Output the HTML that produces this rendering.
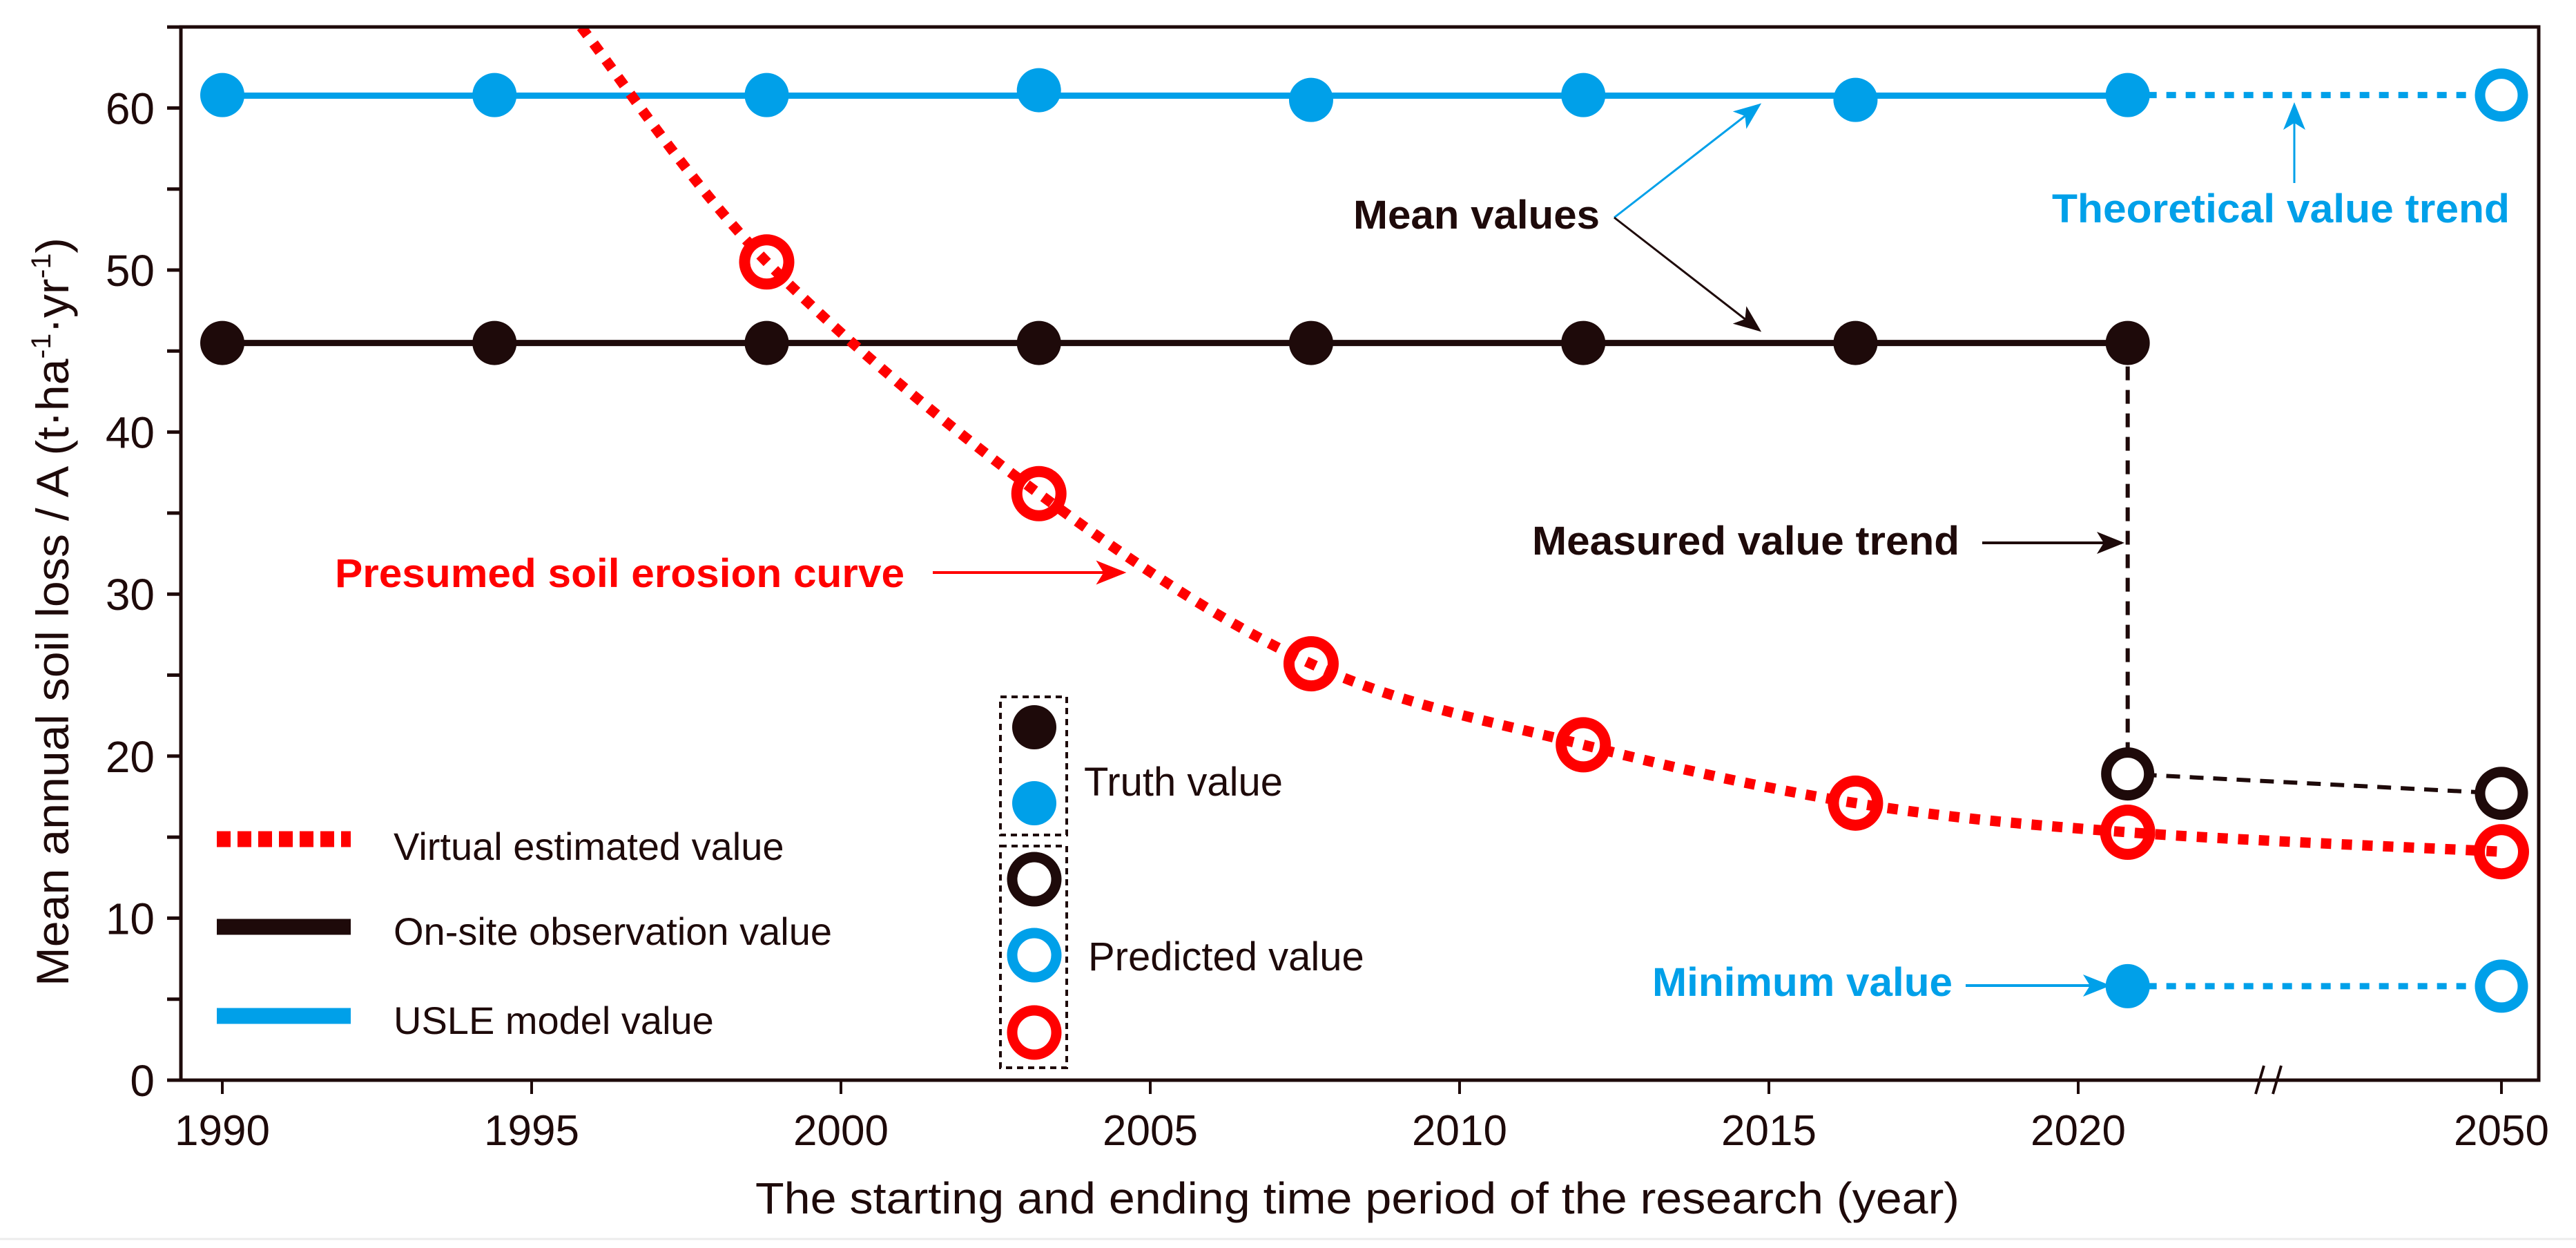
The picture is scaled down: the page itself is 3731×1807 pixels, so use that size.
<!DOCTYPE html>
<html><head><meta charset="utf-8"><style>
html,body{margin:0;padding:0;background:#fff;}
svg{display:block;}
text{font-family:"Liberation Sans",Arial,sans-serif;}
</style></head><body>
<svg id="chart" width="3731" height="1807" viewBox="0 0 3731 1807" xmlns="http://www.w3.org/2000/svg">
<defs>
<clipPath id="plotClip"><rect x="262" y="39" width="3415" height="1525"/></clipPath>
<marker id="arrBlue" viewBox="0 0 20 20" refX="18" refY="10" markerWidth="40" markerHeight="40" markerUnits="userSpaceOnUse" orient="auto"><path d="M0,2 L20,10 L0,18 L5,10 Z" fill="#00a0e9"/></marker>
<marker id="arrBlack" viewBox="0 0 20 20" refX="18" refY="10" markerWidth="40" markerHeight="40" markerUnits="userSpaceOnUse" orient="auto"><path d="M0,2 L20,10 L0,18 L5,10 Z" fill="#1e0a0a"/></marker>
<marker id="arrRed" viewBox="0 0 20 20" refX="18" refY="10" markerWidth="44" markerHeight="44" markerUnits="userSpaceOnUse" orient="auto"><path d="M0,2 L20,10 L0,18 L5,10 Z" fill="#ff0000"/></marker>
</defs>
<g id="series" clip-path="url(#plotClip)"></g>
<g id="axes"></g>
<g id="annotations">
  <text x="1960" y="331" font-size="58" font-weight="bold" fill="#1e0a0a" textLength="357" lengthAdjust="spacingAndGlyphs">Mean values</text>
  <line x1="2338" y1="315" x2="2548" y2="152" stroke="#00a0e9" stroke-width="3" marker-end="url(#arrBlue)"/>
  <line x1="2338" y1="315" x2="2548" y2="478" stroke="#1e0a0a" stroke-width="3" marker-end="url(#arrBlack)"/>
  <text x="2972" y="322" font-size="58" font-weight="bold" fill="#00a0e9" textLength="663" lengthAdjust="spacingAndGlyphs">Theoretical value trend</text>
  <line x1="3323" y1="265" x2="3323" y2="152" stroke="#00a0e9" stroke-width="3" marker-end="url(#arrBlue)"/>
  <text x="2219" y="803" font-size="58" font-weight="bold" fill="#1e0a0a" textLength="619" lengthAdjust="spacingAndGlyphs">Measured value trend</text>
  <line x1="2871" y1="786" x2="3073" y2="786" stroke="#1e0a0a" stroke-width="4" marker-end="url(#arrBlack)"/>
  <text x="485" y="850" font-size="58" font-weight="bold" fill="#ff0000" textLength="825" lengthAdjust="spacingAndGlyphs">Presumed soil erosion curve</text>
  <line x1="1351" y1="829" x2="1627" y2="829" stroke="#ff0000" stroke-width="4" marker-end="url(#arrRed)"/>
  <text x="2393" y="1442" font-size="58" font-weight="bold" fill="#00a0e9" textLength="435" lengthAdjust="spacingAndGlyphs">Minimum value</text>
  <line x1="2847" y1="1427" x2="3053" y2="1427" stroke="#00a0e9" stroke-width="4" marker-end="url(#arrBlue)"/>
</g>
<g id="legend">
  <line x1="314" y1="1215" x2="508" y2="1215" stroke="#ff0000" stroke-width="23" stroke-dasharray="20 10"/>
  <text x="570" y="1245" font-size="56" fill="#1e0a0a">Virtual estimated value</text>
  <line x1="314" y1="1342" x2="508" y2="1342" stroke="#1e0a0a" stroke-width="23"/>
  <text x="570" y="1368" font-size="56" fill="#1e0a0a">On-site observation value</text>
  <line x1="314" y1="1471" x2="508" y2="1471" stroke="#00a0e9" stroke-width="23"/>
  <text x="570" y="1497" font-size="56" fill="#1e0a0a">USLE model value</text>
  <rect x="1449" y="1009" width="96" height="200" fill="none" stroke="#1e0a0a" stroke-width="4" stroke-dasharray="9 7"/>
  <circle cx="1498" cy="1053" r="32" fill="#1e0a0a"/>
  <circle cx="1498" cy="1163" r="32" fill="#00a0e9"/>
  <text x="1570" y="1152" font-size="58" fill="#1e0a0a">Truth value</text>
  <rect x="1449" y="1225" width="96" height="321" fill="none" stroke="#1e0a0a" stroke-width="4" stroke-dasharray="9 7"/>
  <circle cx="1498" cy="1273" r="32" fill="#fff" stroke="#1e0a0a" stroke-width="15"/>
  <circle cx="1498" cy="1383" r="32" fill="#fff" stroke="#00a0e9" stroke-width="15"/>
  <circle cx="1498" cy="1495" r="32" fill="#fff" stroke="#ff0000" stroke-width="15"/>
  <text x="1576" y="1405" font-size="58" fill="#1e0a0a">Predicted value</text>
</g>
<line x1="0" y1="1794" x2="3731" y2="1794" stroke="#ececec" stroke-width="3"/>
</svg>
<script>
// ---- data ----
const truthYears = [1990, 1994.4, 1998.8, 2003.2, 2007.6, 2012, 2016.4, 2020.8];
const uslValues = [60.8, 60.8, 60.8, 61.1, 60.5, 60.8, 60.5, 60.8];
const observedValues = [45.5, 45.5, 45.5, 45.5, 45.5, 45.5, 45.5, 45.5];
const predYears = [2020.8, 2050];
const predUsle = [60.8, 60.8];
const predObserved = [18.9, 17.7];
const minValues = [5.8, 5.8];
const curveYears = [1995.8, 1998.8, 2003.2, 2007.6, 2012, 2016.4, 2020.8, 2050];
const curveValues = [65, 50.5, 36.2, 25.7, 20.7, 17.1, 15.3, 14.1];
const curveMarkerYears = [1998.8, 2003.2, 2007.6, 2012, 2016.4, 2020.8, 2050];
const curveMarkerValues = [50.5, 36.2, 25.7, 20.7, 17.1, 15.3, 14.1];
const xTickLabels = ['1990','1995','2000','2005','2010','2015','2020','2050'];
const xTickYears = [1990,1995,2000,2005,2010,2015,2020,2050];
const yTicks = [0,5,10,15,20,25,30,35,40,45,50,55,60,65];
const yTickLabels = ['0','10','20','30','40','50','60'];

const NS = 'http://www.w3.org/2000/svg';
const X0 = 262, X1 = 3677, Y0 = 1564, Y1 = 39;
function xs(y){ return y > 2030 ? 3623 + (y - 2050) * 89.6 : 322 + (y - 1990) * 89.6; }
function ys(v){ return Y0 - v * 23.46; }
function mk(tag, attrs, parent){ const e = document.createElementNS(NS, tag); for (const k in attrs) e.setAttribute(k, attrs[k]); parent.appendChild(e); return e; }
const BLK = '#1e0a0a', BLU = '#00a0e9', RED = '#ff0000';
const S = document.getElementById('series');
const A = document.getElementById('axes');

function poly(xsArr, vals){ return xsArr.map((t,i)=>xs(t)+','+ys(vals[i])).join(' '); }
function mean(a){ return a.reduce((s,v)=>s+v,0)/a.length; }

// blue (mean) and black lines
const uMean = mean(uslValues), oMean = mean(observedValues);
let e = mk('line', {x1:xs(truthYears[0]), x2:xs(truthYears[truthYears.length-1]), y1:ys(uMean), y2:ys(uMean), stroke:BLU, 'stroke-width':9}, S);


e = mk('line', {x1:xs(truthYears[0]), x2:xs(truthYears[truthYears.length-1]), y1:ys(oMean), y2:ys(oMean), stroke:BLK, 'stroke-width':9}, S);


e = mk('polyline', {points: poly(predYears, predUsle), fill:'none', stroke:BLU, 'stroke-width':9, 'stroke-dasharray':'14 14'}, S);


e = mk('polyline', {points: poly(predYears, minValues), fill:'none', stroke:BLU, 'stroke-width':9, 'stroke-dasharray':'14 14'}, S);


const lastX = xs(truthYears[truthYears.length-1]);
e = mk('polyline', {points: lastX+','+ys(observedValues[observedValues.length-1])+' '+xs(predYears[0])+','+ys(predObserved[0])+' '+xs(predYears[1])+','+ys(predObserved[1]), fill:'none', stroke:BLK, 'stroke-width':6, 'stroke-dasharray':'20 14'}, S);



// red curve (Catmull-Rom)
const pts = curveYears.map((t,i)=>[xs(t), ys(curveValues[i])]);
let d = 'M'+pts[0][0]+','+pts[0][1];
for (let i=0;i<pts.length-1;i++){
  const p0 = pts[Math.max(0,i-1)], p1 = pts[i], p2 = pts[i+1], p3 = pts[Math.min(pts.length-1,i+2)];
  const c1 = [p1[0]+(p2[0]-p0[0])/6, p1[1]+(p2[1]-p0[1])/6];
  const c2 = [p2[0]-(p3[0]-p1[0])/6, p2[1]-(p3[1]-p1[1])/6];
  d += ' C'+c1[0]+','+c1[1]+' '+c2[0]+','+c2[1]+' '+p2[0]+','+p2[1];
}
e = mk('path', {d:d, fill:'none', stroke:RED, 'stroke-width':15, 'stroke-dasharray':'15 15'}, S);



// markers
truthYears.forEach((t,i)=>{
  let c = mk('circle', {cx:xs(t), cy:ys(uslValues[i]), r:32, fill:BLU}, S);
  
  
  c = mk('circle', {cx:xs(t), cy:ys(observedValues[i]), r:32, fill:BLK}, S);
  
  
});
let c = mk('circle', {cx:xs(predYears[0]), cy:ys(minValues[0]), r:32, fill:BLU}, S);


c = mk('circle', {cx:xs(predYears[1]), cy:ys(minValues[1]), r:31, fill:'#fff', stroke:BLU, 'stroke-width':15}, S);


c = mk('circle', {cx:xs(predYears[1]), cy:ys(predUsle[1]), r:31, fill:'#fff', stroke:BLU, 'stroke-width':15}, S);


predYears.forEach((t,i)=>{
  const cc = mk('circle', {cx:xs(t), cy:ys(predObserved[i]), r:31, fill:'#fff', stroke:BLK, 'stroke-width':15}, S);
  
  
});
curveMarkerYears.forEach((t,i)=>{
  const cc = mk('circle', {cx:xs(t), cy:ys(curveMarkerValues[i]), r:32, fill:'none', stroke:RED, 'stroke-width':16}, S);
  
  
});

// axes frame
let f = mk('rect', {x:X0, y:Y1, width:X1-X0, height:Y0-Y1, fill:'none', stroke:BLK, 'stroke-width':5}, A);


yTicks.forEach(v=>{
  const t = mk('line', {x1:242, x2:X0, y1:ys(v), y2:ys(v), stroke:BLK, 'stroke-width':5}, A);
  
  
});
yTickLabels.forEach(l=>{
  const t = mk('text', {x:224, y:ys(+l)+23, 'font-size':64, 'text-anchor':'end', fill:BLK}, A);
  t.textContent = l;
  
  
});
xTickYears.forEach((yv,i)=>{
  const t = mk('line', {x1:xs(yv), x2:xs(yv), y1:Y0, y2:1584, stroke:BLK, 'stroke-width':4}, A);
  
  
  const l = mk('text', {x:xs(yv), y:1658, 'font-size':62, 'text-anchor':'middle', fill:BLK}, A);
  l.textContent = xTickLabels[i];
  
  
});
const br = mk('g', {}, A);


mk('line', {x1:3267, y1:1584, x2:3279, y2:1543, stroke:BLK, 'stroke-width':4}, br);
mk('line', {x1:3292, y1:1584, x2:3304, y2:1543, stroke:BLK, 'stroke-width':4}, br);

let xt = mk('text', {x:1966, y:1757, 'font-size':64, 'text-anchor':'middle', fill:BLK, textLength:1744, lengthAdjust:'spacingAndGlyphs'}, A);
xt.textContent = 'The starting and ending time period of the research (year)';


let yt = mk('text', {x:0, y:0, 'font-size':66, 'text-anchor':'middle', fill:BLK, transform:'translate(99,886) rotate(-90)', textLength:1084, lengthAdjust:'spacingAndGlyphs'}, A);
yt.innerHTML = 'Mean annual soil loss / A (t·ha<tspan font-size="40" dy="-26">-1</tspan><tspan dy="26">·yr</tspan><tspan font-size="40" dy="-26">-1</tspan><tspan dy="26">)</tspan>';


</script>
</body></html>
